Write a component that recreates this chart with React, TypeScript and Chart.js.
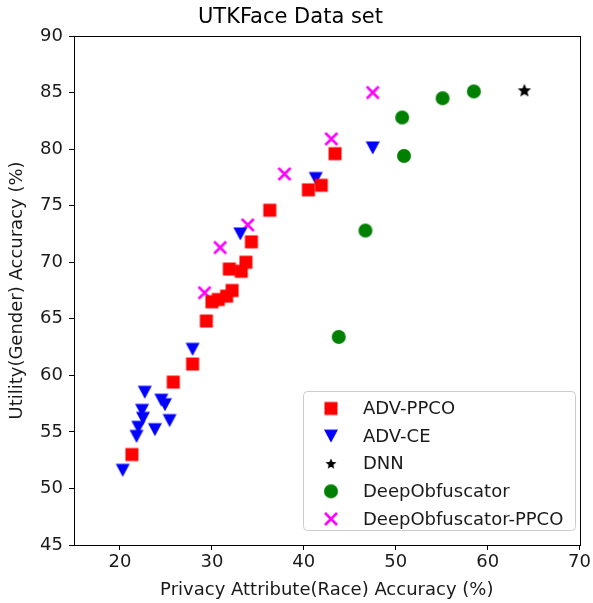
import React, { useEffect, useRef } from "react";
import { Chart, registerables } from "chart.js";

Chart.register(...registerables);

const advPpcoX = [21.3, 25.8, 27.9, 29.4, 30.0, 30.7, 31.6, 32.2, 31.9, 33.2, 33.7, 34.3, 36.3, 40.5, 41.9, 43.4];
const advPpcoY = [53.0, 59.4, 61.0, 64.8, 66.5, 66.7, 67.0, 67.5, 69.4, 69.2, 70.0, 71.8, 74.6, 76.4, 76.8, 79.6];

const advCeX = [20.3, 21.8, 22.0, 22.5, 22.4, 22.7, 23.8, 24.5, 24.9, 25.4, 27.9, 33.1, 41.3, 47.5];
const advCeY = [51.6, 54.6, 55.4, 56.2, 56.9, 58.5, 55.2, 57.8, 57.4, 56.0, 62.3, 72.5, 77.4, 80.1];

const dnnX = [64.0];
const dnnY = [85.2];

const deepObfX = [43.8, 46.7, 50.7, 50.9, 55.1, 58.5];
const deepObfY = [63.4, 72.8, 82.8, 79.4, 84.5, 85.1];

const deepObfPpcoX = [29.2, 30.9, 33.9, 37.9, 43.0, 47.5];
const deepObfPpcoY = [67.3, 71.3, 73.3, 77.8, 80.9, 85.0];

const xTicks = [20, 30, 40, 50, 60, 70];
const yTicks = [45, 50, 55, 60, 65, 70, 75, 80, 85, 90];

const seriesNames = ["ADV-PPCO", "ADV-CE", "DNN", "DeepObfuscator", "DeepObfuscator-PPCO"];

const FONT = "'DejaVu Sans', sans-serif";

function makeMarker(kind: string): HTMLCanvasElement {
  const s = 16;
  const c = document.createElement("canvas");
  c.width = s;
  c.height = s;
  const ctx = c.getContext("2d")!;
  const m = s / 2;
  if (kind === "square") {
    ctx.fillStyle = "#ff0000";
    ctx.fillRect(m - 6.5, m - 6.5, 13, 13);
  } else if (kind === "tri") {
    ctx.fillStyle = "#0000ff";
    ctx.beginPath();
    ctx.moveTo(m - 7, m - 6.5);
    ctx.lineTo(m + 7, m - 6.5);
    ctx.lineTo(m, m + 6.5);
    ctx.closePath();
    ctx.fill();
  } else if (kind === "star") {
    ctx.fillStyle = "#000000";
    ctx.beginPath();
    const R = 7, r = 3.2;
    for (let i = 0; i < 10; i++) {
      const a = -Math.PI / 2 + (i * Math.PI) / 5;
      const rr = i % 2 === 0 ? R : r;
      const px = m + rr * Math.cos(a);
      const py = m + 0.5 + rr * Math.sin(a);
      if (i === 0) ctx.moveTo(px, py);
      else ctx.lineTo(px, py);
    }
    ctx.closePath();
    ctx.fill();
  } else if (kind === "circle") {
    ctx.fillStyle = "#008000";
    ctx.beginPath();
    ctx.arc(m, m, 7, 0, Math.PI * 2);
    ctx.fill();
  } else if (kind === "cross") {
    ctx.strokeStyle = "#ff00ff";
    ctx.lineWidth = 2.6;
    ctx.beginPath();
    ctx.moveTo(m - 6, m - 6);
    ctx.lineTo(m + 6, m + 6);
    ctx.moveTo(m + 6, m - 6);
    ctx.lineTo(m - 6, m + 6);
    ctx.stroke();
  }
  return c;
}

function pts(xs: number[], ys: number[]) {
  return xs.map((x, i) => ({ x, y: ys[i] }));
}

export default function App() {
  const ref = useRef<HTMLCanvasElement | null>(null);

  useEffect(() => {
    const canvas = ref.current;
    if (!canvas) return;
    const markers = [makeMarker("square"), makeMarker("tri"), makeMarker("star"), makeMarker("circle"), makeMarker("cross")];

    const framePlugin = {
      id: "frameAndLegend",
      afterDraw(chart: any) {
        const { ctx, chartArea } = chart;
        ctx.save();
        ctx.strokeStyle = "#000";
        ctx.lineWidth = 1;
        ctx.strokeRect(
          Math.round(chartArea.left) + 0.5,
          Math.round(chartArea.top) + 0.5,
          Math.round(chartArea.right - chartArea.left),
          Math.round(chartArea.bottom - chartArea.top)
        );
        // legend
        const bx = 303.5, by = 391.5, bw = 272, bh = 139, rad = 4;
        ctx.beginPath();
        ctx.moveTo(bx + rad, by);
        ctx.lineTo(bx + bw - rad, by);
        ctx.arcTo(bx + bw, by, bx + bw, by + rad, rad);
        ctx.lineTo(bx + bw, by + bh - rad);
        ctx.arcTo(bx + bw, by + bh, bx + bw - rad, by + bh, rad);
        ctx.lineTo(bx + rad, by + bh);
        ctx.arcTo(bx, by + bh, bx, by + bh - rad, rad);
        ctx.lineTo(bx, by + rad);
        ctx.arcTo(bx, by, bx + rad, by, rad);
        ctx.closePath();
        ctx.fillStyle = "rgba(255,255,255,0.8)";
        ctx.fill();
        ctx.strokeStyle = "#cccccc";
        ctx.stroke();
        ctx.font = "18px " + FONT;
        ctx.fillStyle = "#1a1a1a";
        ctx.textBaseline = "middle";
        ctx.textAlign = "left";
        seriesNames.forEach((name, i) => {
          const cy = 408.5 + i * 27.6;
          const mk = markers[i];
          const scale = i === 2 ? 0.8 : 1;
          const w = mk.width * scale;
          ctx.drawImage(mk, 331 - w / 2, cy - w / 2, w, w);
          ctx.fillText(name, 363, cy + 1);
        });
        ctx.restore();
      },
    };

    const chart = new Chart(canvas, {
      type: "scatter",
      data: {
        datasets: [
          { label: seriesNames[0], data: pts(advPpcoX, advPpcoY), pointStyle: markers[0] as any, backgroundColor: "#ff0000" },
          { label: seriesNames[1], data: pts(advCeX, advCeY), pointStyle: markers[1] as any, backgroundColor: "#0000ff" },
          { label: seriesNames[2], data: pts(dnnX, dnnY), pointStyle: markers[2] as any, backgroundColor: "#000" },
          { label: seriesNames[3], data: pts(deepObfX, deepObfY), pointStyle: markers[3] as any, backgroundColor: "#008000" },
          { label: seriesNames[4], data: pts(deepObfPpcoX, deepObfPpcoY), pointStyle: markers[4] as any, backgroundColor: "#ff00ff" },
        ],
      },
      options: {
        responsive: false,
        animation: false,
        layout: { padding: { left: 0, right: 12, top: 0, bottom: 0 } },
        plugins: {
          legend: { display: false },
          tooltip: { enabled: false },
          title: {
            display: true,
            text: "UTKFace Data set",
            color: "#000",
            font: { family: FONT, size: 21, weight: "normal" as any },
            padding: { top: 4.5, bottom: 6.3 },
          },
        },
        scales: {
          x: {
            type: "linear",
            min: 15,
            max: 70,
            afterBuildTicks: (scale: any) => {
              scale.ticks = xTicks.map((v) => ({ value: v }));
            },
            afterFit: (scale: any) => {
              scale.height = 58;
            },
            grid: { drawOnChartArea: false, drawTicks: true, tickLength: 5, color: "#000" },
            border: { display: true, color: "#000" },
            ticks: { color: "#1a1a1a", font: { family: FONT, size: 18 }, padding: 2, maxRotation: 0 },
            title: {
              display: true,
              text: "Privacy Attribute(Race) Accuracy (%)",
              color: "#1a1a1a",
              font: { family: FONT, size: 18 },
              padding: { top: 2, bottom: 2 },
            },
          },
          y: {
            type: "linear",
            min: 45,
            max: 90,
            afterBuildTicks: (scale: any) => {
              scale.ticks = yTicks.map((v) => ({ value: v }));
            },
            afterFit: (scale: any) => {
              scale.width = 74;
            },
            grid: { drawOnChartArea: false, drawTicks: true, tickLength: 5, color: "#000" },
            border: { display: true, color: "#000" },
            ticks: { color: "#1a1a1a", font: { family: FONT, size: 18 }, padding: 6 },
            title: {
              display: true,
              text: "Utility(Gender) Accuracy (%)",
              color: "#1a1a1a",
              font: { family: FONT, size: 18 },
              padding: { top: 7, bottom: 7 },
            },
          },
        },
      },
      plugins: [framePlugin],
    });
    return () => chart.destroy();
  }, []);

  return (
    <canvas
      ref={ref}
      width={593}
      height={603}
      style={{ position: "fixed", left: 0, top: 0, width: 593, height: 603 }}
    />
  );
}
